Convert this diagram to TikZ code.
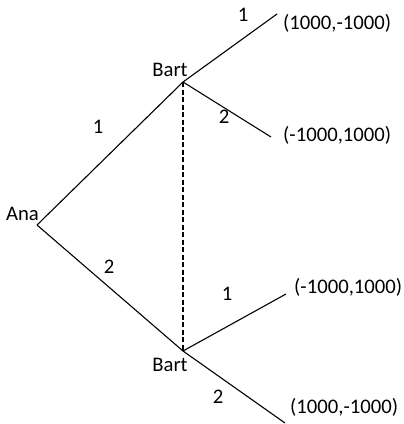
\documentclass[tikz,border=0pt]{standalone}
\usepackage{fontspec}
\setmainfont{Carlito}
\begin{document}
\begin{tikzpicture}[x=1pt,y=-1pt,
  lbl/.style={font=\fontsize{20.7}{24}\selectfont, inner sep=0pt},
  edge/.style={line width=1.1pt, black}]
\useasboundingbox (0,0) rectangle (404,424);
\coordinate (ana) at (37,225);
\coordinate (b1) at (183,82);
\coordinate (b2) at (183,351);
\coordinate (t1) at (277,14);
\coordinate (t2) at (271,137);
\coordinate (t3) at (286,294);
\coordinate (t4) at (285,423);
\draw[edge] (ana) -- (b1);
\draw[edge] (ana) -- (b2);
\draw[edge] (b1) -- (t1);
\draw[edge] (b1) -- (t2);
\draw[edge] (b2) -- (t3);
\draw[edge] (b2) -- (t4);
\draw[edge, dash pattern=on 5pt off 2.5pt] (b1) -- (b2);
\node[lbl, anchor=east] (nana) at (39,214) {Ana};
\node[lbl] (nb1) at (170,70) {Bart};
\node[lbl] (nb2) at (170,365) {Bart};
\node[lbl] (l1) at (98,127) {1};
\node[lbl] (l2) at (109,267) {2};
\node[lbl] (l3) at (243,15) {1};
\node[lbl] (l4) at (224,117) {2};
\node[lbl] (l5) at (227,294) {1};
\node[lbl] (l6) at (218,397) {2};
\node[lbl, anchor=west] (p1) at (283,23) {(1000,-1000)};
\node[lbl, anchor=west] (p2) at (283,135) {(-1000,1000)};
\node[lbl, anchor=west] (p3) at (294,287) {(-1000,1000)};
\node[lbl, anchor=west] (p4) at (290,407) {(1000,-1000)};
\end{tikzpicture}
\end{document}
